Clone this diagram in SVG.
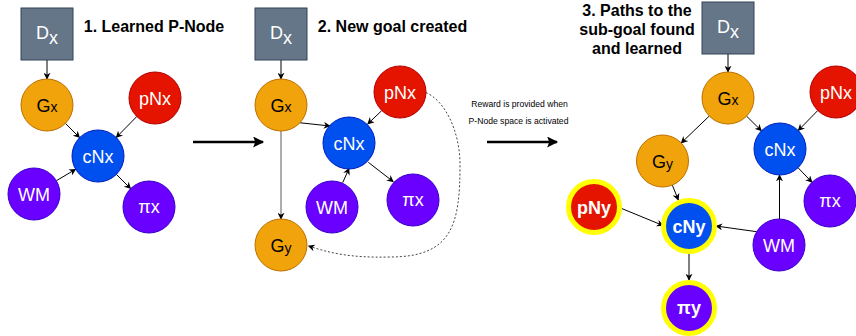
<svg xmlns="http://www.w3.org/2000/svg" width="856" height="336" viewBox="0 0 856 336">
<style>
text{font-family:"Liberation Sans",Arial,Helvetica,sans-serif}
.d{fill:#647687;stroke:#314354;stroke-width:1}
.g{fill:#f0a30a;stroke:#BD7000;stroke-width:1}
.p{fill:#e51400;stroke:#B20000;stroke-width:1}
.c{fill:#0050ef;stroke:#001DBC;stroke-width:1}
.v{fill:#6a00ff;stroke:#3700CC;stroke-width:1}
.ring{stroke:#FFFF00;stroke-width:5}
.lw{fill:#fff;font-size:18px;text-anchor:middle}
.lb{fill:#000;font-size:18px;text-anchor:middle}
.bw{fill:#fff;font-size:18px;font-weight:bold;text-anchor:middle}
.t{fill:#000;font-size:16px;font-weight:bold;text-anchor:middle}
.s{fill:#000;font-size:8.6px;text-anchor:middle}
.e{stroke:#000;stroke-width:1;fill:none;marker-end:url(#a)}
.eg{stroke:#808080;stroke-width:1.3;fill:none;marker-end:url(#a)}
.dash{stroke:#444;stroke-width:1;fill:none;stroke-dasharray:2 2;marker-end:url(#a)}
.big{stroke:#000;stroke-width:2.5;fill:none;marker-end:url(#b)}
</style>
<defs>
<marker id="a" viewBox="0 0 10 10" refX="9" refY="5" markerWidth="7" markerHeight="7" orient="auto" markerUnits="userSpaceOnUse"><path d="M0,0 L10,5 L0,10 L3,5 z" fill="#000"/></marker>
<marker id="b" viewBox="0 0 10 10" refX="9" refY="5" markerWidth="12" markerHeight="11" orient="auto" markerUnits="userSpaceOnUse"><path d="M0,0 L10,5 L0,10 L2,5 z" fill="#000"/></marker>
</defs>

<g id="connectors">
<!-- panel 1 -->
<line class="e" x1="47" y1="60" x2="47" y2="79"/>
<line class="e" x1="65.4" y1="123.4" x2="79.6" y2="137.6"/>
<line class="e" x1="136.8" y1="116.5" x2="116.2" y2="137.5"/>
<line class="e" x1="56.4" y1="180.7" x2="75.6" y2="169.3"/>
<line class="e" x1="116.4" y1="174.4" x2="130.6" y2="188.6"/>
<line class="big" x1="193" y1="142" x2="263" y2="142"/>
<!-- panel 2 -->
<line class="e" x1="281" y1="60" x2="281" y2="79"/>
<line class="e" x1="299.3" y1="122.7" x2="330" y2="126"/>
<line class="e" x1="381.7" y1="110.7" x2="367.7" y2="124"/>
<line class="e" x1="342.7" y1="182.7" x2="349" y2="168.5"/>
<line class="e" x1="368.3" y1="162.3" x2="393.3" y2="181.7"/>
<line class="eg" x1="281" y1="131" x2="281" y2="219"/>
<path class="dash" d="M426,92.7 C444,100 460,130 460,165 C460,225 452,257 390,257 C350,258 330,253 308.5,246"/>
<line class="big" x1="487" y1="142" x2="557" y2="142"/>
<!-- panel 3 -->
<line class="e" x1="728" y1="54" x2="728" y2="72"/>
<line class="e" x1="709.3" y1="116" x2="681.2" y2="143"/>
<line class="e" x1="746.6" y1="116.2" x2="761.4" y2="130.8"/>
<line class="e" x1="817.8" y1="110.5" x2="798.2" y2="130.5"/>
<line class="e" x1="798" y1="167.7" x2="812" y2="182.3"/>
<line class="e" x1="779.5" y1="219" x2="779.5" y2="175"/>
<line class="e" x1="672.3" y1="185.1" x2="678.4" y2="200"/>
<line class="e" x1="621.7" y1="208.5" x2="663" y2="225.5"/>
<line class="e" x1="756.7" y1="231.7" x2="716" y2="226"/>
<line class="e" x1="689" y1="254" x2="689" y2="280"/>
</g>

<!-- titles -->
<g id="titles">
<text class="t" x="154" y="31.5">1. Learned P-Node</text>
<text class="t" x="392.5" y="31.5">2. New goal created</text>
<text class="t" x="637" y="15.5">3. Paths to the</text>
<text class="t" x="637" y="34.5">sub-goal found</text>
<text class="t" x="637" y="53.5">and learned</text>
<text class="s" x="519.5" y="106.5">Reward is provided when</text>
<text class="s" x="518.5" y="124">P-Node space is activated</text>
</g>

<!-- panel 1 nodes -->
<g id="p1-Dx"><rect class="d" x="21" y="8" width="52" height="52"/><text class="lw" x="47" y="38.5">D<tspan dy="5">x</tspan></text></g>
<g id="p1-Gx"><circle class="g" cx="47" cy="105" r="26"/><text class="lb" x="47" y="111.5">G<tspan font-size="14">x</tspan></text></g>
<g id="p1-pNx"><circle class="p" cx="155" cy="98" r="26"/><text class="lw" x="155" y="104.5">pNx</text></g>
<g id="p1-cNx"><circle class="c" cx="98" cy="156" r="26"/><text class="lw" x="98" y="162.5">cNx</text></g>
<g id="p1-WM"><circle class="v" cx="34" cy="194" r="26"/><text class="lw" x="34" y="200.5" fill="#f0e8ff">WM</text></g>
<g id="p1-pix"><circle class="v" cx="149" cy="207" r="26"/><text class="lw" x="149" y="213" font-size="16">πx</text></g>

<!-- panel 2 nodes -->
<g id="p2-Dx"><rect class="d" x="255" y="8" width="52" height="52"/><text class="lw" x="281" y="38.5">D<tspan dy="5">x</tspan></text></g>
<g id="p2-Gx"><circle class="g" cx="281" cy="105" r="26"/><text class="lb" x="281" y="111.5">G<tspan font-size="14">x</tspan></text></g>
<g id="p2-pNx"><circle class="p" cx="400" cy="92" r="26"/><text class="lw" x="400" y="98.5">pNx</text></g>
<g id="p2-cNx"><circle class="c" cx="349" cy="143" r="26"/><text class="lw" x="349" y="149.5">cNx</text></g>
<g id="p2-WM"><circle class="v" cx="332" cy="207" r="26"/><text class="lw" x="332" y="213.5" fill="#f0e8ff">WM</text></g>
<g id="p2-pix"><circle class="v" cx="413" cy="200" r="26"/><text class="lw" x="413" y="206" font-size="16">πx</text></g>
<g id="p2-Gy"><circle class="g" cx="281" cy="245" r="26"/><text class="lb" x="281" y="251.5">G<tspan font-size="14" dy="1">y</tspan></text></g>

<!-- panel 3 nodes -->
<g id="p3-Dx"><rect class="d" x="702" y="2" width="52" height="52"/><text class="lw" x="728" y="32.5">D<tspan dy="5">x</tspan></text></g>
<g id="p3-Gx"><circle class="g" cx="728" cy="98" r="26"/><text class="lb" x="728" y="104.5">G<tspan font-size="14">x</tspan></text></g>
<g id="p3-pNx"><circle class="p" cx="836" cy="92" r="26"/><text class="lw" x="836" y="98.5">pNx</text></g>
<g id="p3-cNx"><circle class="c" cx="780" cy="149" r="26"/><text class="lw" x="780" y="155.5">cNx</text></g>
<g id="p3-Gy"><circle class="g" cx="662.5" cy="161" r="26"/><text class="lb" x="662.5" y="167.5">G<tspan font-size="14" dy="1">y</tspan></text></g>
<g id="p3-pix"><circle class="v" cx="830" cy="201" r="26"/><text class="lw" x="830" y="207" font-size="16">πx</text></g>
<g id="p3-WM"><circle class="v" cx="779" cy="245" r="26"/><text class="lw" x="779" y="251.5" fill="#f0e8ff">WM</text></g>
<g id="p3-pNy"><circle class="p ring" cx="594" cy="207" r="25.5"/><text class="bw" x="594" y="213.5">pNy</text></g>
<g id="p3-cNy"><circle class="c ring" cx="689" cy="226" r="25.5"/><text class="bw" x="689" y="232.5">cNy</text></g>
<g id="p3-piy"><circle class="v ring" cx="689" cy="308" r="25.5"/><text class="bw" x="689" y="314">πy</text></g>
</svg>
